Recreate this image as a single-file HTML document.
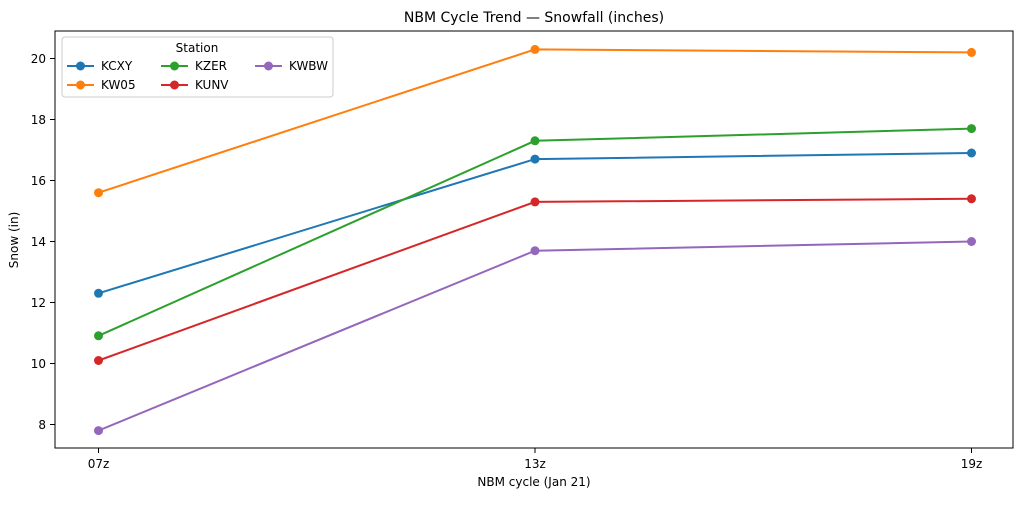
<!DOCTYPE html>
<html><head><meta charset="utf-8"><style>body{margin:0;background:#fff}</style></head><body>
<svg width="1024" height="500" xmlns="http://www.w3.org/2000/svg" font-family="'DejaVu Sans','Liberation Sans',sans-serif">
<rect width="1024" height="500" fill="#fff"/>
<text x="534" y="22" font-size="14" text-anchor="middle" fill="#000">NBM Cycle Trend — Snowfall (inches)</text>
<g stroke="#000" stroke-width="1">
<line x1="50" y1="58.5" x2="55" y2="58.5"/><line x1="50" y1="119.5" x2="55" y2="119.5"/><line x1="50" y1="180.5" x2="55" y2="180.5"/><line x1="50" y1="241.5" x2="55" y2="241.5"/><line x1="50" y1="302.5" x2="55" y2="302.5"/><line x1="50" y1="363.5" x2="55" y2="363.5"/><line x1="50" y1="424.5" x2="55" y2="424.5"/>
<line x1="98.5" y1="448" x2="98.5" y2="453"/><line x1="535" y1="448" x2="535" y2="453"/><line x1="971.5" y1="448" x2="971.5" y2="453"/>
</g>
<g font-size="12" fill="#000" text-anchor="end">
<text x="46" y="63">20</text><text x="46" y="124">18</text><text x="46" y="185">16</text><text x="46" y="246">14</text><text x="46" y="307">12</text><text x="46" y="368">10</text><text x="46" y="429">8</text>
</g>
<g font-size="12" fill="#000" text-anchor="middle">
<text x="98.5" y="468">07z</text><text x="535" y="468">13z</text><text x="971.5" y="468">19z</text>
<text x="534" y="486">NBM cycle (Jan 21)</text>
</g>
<text transform="translate(18,240) rotate(-90)" font-size="12" text-anchor="middle">Snow (in)</text>
<g fill="none" stroke-width="2">
<polyline stroke="#1f77b4" points="98.5,293.3 535,159.1 971.5,153"/>
<polyline stroke="#ff7f0e" points="98.5,192.7 535,49.4 971.5,52.4"/>
<polyline stroke="#2ca02c" points="98.5,335.8 535,140.8 971.5,128.6"/>
<polyline stroke="#d62728" points="98.5,360.5 535,201.9 971.5,198.8"/>
<polyline stroke="#9467bd" points="98.5,430.6 535,250.7 971.5,241.5"/>
</g>
<g>
<circle cx="98.5" cy="293.3" r="4.5" fill="#1f77b4"/><circle cx="535" cy="159.1" r="4.5" fill="#1f77b4"/><circle cx="971.5" cy="153" r="4.5" fill="#1f77b4"/>
<circle cx="98.5" cy="192.7" r="4.5" fill="#ff7f0e"/><circle cx="535" cy="49.4" r="4.5" fill="#ff7f0e"/><circle cx="971.5" cy="52.4" r="4.5" fill="#ff7f0e"/>
<circle cx="98.5" cy="335.8" r="4.5" fill="#2ca02c"/><circle cx="535" cy="140.8" r="4.5" fill="#2ca02c"/><circle cx="971.5" cy="128.6" r="4.5" fill="#2ca02c"/>
<circle cx="98.5" cy="360.5" r="4.5" fill="#d62728"/><circle cx="535" cy="201.9" r="4.5" fill="#d62728"/><circle cx="971.5" cy="198.8" r="4.5" fill="#d62728"/>
<circle cx="98.5" cy="430.6" r="4.5" fill="#9467bd"/><circle cx="535" cy="250.7" r="4.5" fill="#9467bd"/><circle cx="971.5" cy="241.5" r="4.5" fill="#9467bd"/>
</g>
<rect x="55" y="31" width="958" height="417" fill="none" stroke="#000" stroke-width="1"/>
<rect x="62" y="37" width="271" height="60" rx="3" fill="#fff" fill-opacity="0.8" stroke="#ccc"/>
<text x="197" y="52" font-size="12" text-anchor="middle">Station</text>
<g stroke-width="2">
<line x1="67" y1="66" x2="94" y2="66" stroke="#1f77b4"/><circle cx="80.5" cy="66" r="4.5" fill="#1f77b4"/>
<line x1="67" y1="85" x2="94" y2="85" stroke="#ff7f0e"/><circle cx="80.5" cy="85" r="4.5" fill="#ff7f0e"/>
<line x1="161" y1="66" x2="188" y2="66" stroke="#2ca02c"/><circle cx="174.5" cy="66" r="4.5" fill="#2ca02c"/>
<line x1="161" y1="85" x2="188" y2="85" stroke="#d62728"/><circle cx="174.5" cy="85" r="4.5" fill="#d62728"/>
<line x1="255" y1="66" x2="282" y2="66" stroke="#9467bd"/><circle cx="268.5" cy="66" r="4.5" fill="#9467bd"/>
</g>
<g font-size="12">
<text x="101" y="70">KCXY</text><text x="101" y="89">KW05</text>
<text x="195" y="70">KZER</text><text x="195" y="89">KUNV</text>
<text x="289" y="70">KWBW</text>
</g>
</svg>
</body></html>
